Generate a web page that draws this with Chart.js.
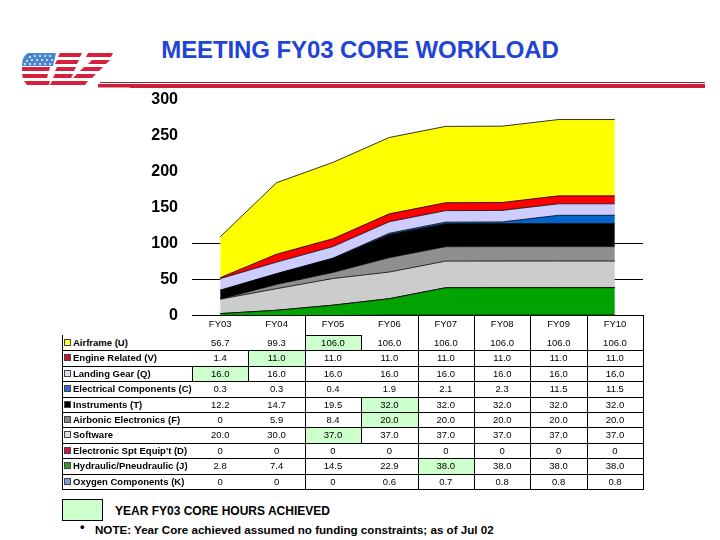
<!DOCTYPE html>
<html>
<head>
<meta charset="utf-8">
<script src="https://cdn.jsdelivr.net/npm/chart.js@4/dist/chart.umd.min.js"></script>
<style>
  html, body { margin:0; padding:0; background:#fff; }
  body { width:720px; height:540px; position:relative; overflow:hidden; font-family:"Liberation Sans", Arial, sans-serif; }
  #title { position:absolute; left:0; width:720px; top:36px; text-align:center; color:#1f44d6; font-weight:bold; font-size:24px; letter-spacing:-0.1px; }
  .abs { position:absolute; }
  #chartWrap { position:absolute; left:140px; top:88px; width:510px; height:237px; }
  .cell { position:absolute; font-size:9.5px; text-align:center; line-height:15.4px; color:#000; }
  .lbl { position:absolute; font-size:9.5px; font-weight:bold; line-height:15.4px; color:#000; white-space:nowrap; }
  .sq { display:inline-block; width:5px; height:5px; border:1px solid #444; margin-right:2px; vertical-align:0px; }
  .hl { position:absolute; background:#ccffcc; border:1px solid #000; box-sizing:border-box; }
  .vl { position:absolute; width:1px; background:#000; }
  .hline { position:absolute; height:1px; background:#000; }
</style>
</head>
<body>
<svg class="abs" style="left:0;top:0" width="130" height="95">
  <g fill="#d5213c">
    <polygon points="60,53 82,53 80,57 58,57"/>
    <polygon points="88,53 113,53 111,57 86,57"/>
    <polygon points="57,60 79,60 77,64 55,64"/>
    <polygon points="92,60 110,60 106,64 88,64"/>
    <polygon points="22,67 50,67 49,71 22,71"/>
    <polygon points="57,67 76,67 74,71 55,71"/>
    <polygon points="84,67 103,67 99,71 80,71"/>
    <polygon points="22,74 48,74 47,78 23,78"/>
    <polygon points="55,74 73,74 71,78 53,78"/>
    <polygon points="77,74 96,74 92,78 73,78"/>
    <polygon points="24,81 50,81 49,85 27,85"/>
    <polygon points="52,81 70,81 68,85 50,85"/>
    <polygon points="69,81 88,81 85,85 66,85"/>
  </g>
  <path d="M28,53 L56,53 L53,66 L22,66 Q22,56 28,53 Z" fill="#4a86cf"/>
  <g fill="#fff">
    <circle cx="30" cy="57" r="0.9"/><circle cx="35" cy="56" r="0.9"/><circle cx="40" cy="56" r="0.9"/><circle cx="45" cy="56" r="0.9"/><circle cx="50" cy="56" r="0.9"/>
    <circle cx="27" cy="61" r="0.9"/><circle cx="32" cy="60" r="0.9"/><circle cx="37" cy="60" r="0.9"/><circle cx="42" cy="60" r="0.9"/><circle cx="47" cy="60" r="0.9"/><circle cx="52" cy="60" r="0.9"/>
    <circle cx="25" cy="64" r="0.9"/><circle cx="30" cy="64" r="0.9"/><circle cx="35" cy="64" r="0.9"/><circle cx="40" cy="64" r="0.9"/><circle cx="45" cy="64" r="0.9"/><circle cx="50" cy="64" r="0.9"/>
  </g>
  <rect x="100" y="82" width="30" height="1" fill="#a8182f"/>
  <rect x="98" y="84" width="32" height="3.5" fill="#cc1f3a"/>
</svg>
<div class="abs" style="left:130px;top:82px;width:575px;height:1px;background:#a8182f"></div>
<div class="abs" style="left:130px;top:84px;width:575px;height:3.5px;background:#cc1f3a"></div>
<div id="title">MEETING FY03 CORE WORKLOAD</div>

<div id="chartWrap"><canvas id="c"></canvas></div>
<div id="table"></div>

<div class="abs" style="left:62px;top:499px;width:41px;height:22px;background:#ccffcc;border:1px solid #000;box-sizing:border-box"></div>
<div class="abs" style="left:115px;top:504px;font-size:12px;font-weight:bold">YEAR FY03 CORE HOURS ACHIEVED</div>
<div class="abs" style="left:80px;top:519px;font-size:13px;font-weight:bold">•</div>
<div class="abs" style="left:95px;top:523px;font-size:11.6px;font-weight:bold">NOTE: Year Core achieved assumed no funding constraints; as of Jul 02</div>

<script>
// ---- data ----
const categories = ['FY03', 'FY04', 'FY05', 'FY06', 'FY07', 'FY08', 'FY09', 'FY10'];
const yTicks = [0, 50, 100, 150, 200, 250, 300];
const seriesLabels = ['Airframe (U)', 'Engine Related (V)', 'Landing Gear (Q)', 'Electrical Components (C)',
  'Instruments (T)', 'Airbonic Electronics (F)', 'Software', "Electronic Spt Equip't (D)",
  'Hydraulic/Pneudraulic (J)', 'Oxygen Components (K)'];
const airframe      = [56.7, 99.3, 106.0, 106.0, 106.0, 106.0, 106.0, 106.0];
const engine        = [1.4, 11.0, 11.0, 11.0, 11.0, 11.0, 11.0, 11.0];
const landingGear   = [16.0, 16.0, 16.0, 16.0, 16.0, 16.0, 16.0, 16.0];
const electrical    = [0.3, 0.3, 0.4, 1.9, 2.1, 2.3, 11.5, 11.5];
const instruments   = [12.2, 14.7, 19.5, 32.0, 32.0, 32.0, 32.0, 32.0];
const airbonic      = [0, 5.9, 8.4, 20.0, 20.0, 20.0, 20.0, 20.0];
const software      = [20.0, 30.0, 37.0, 37.0, 37.0, 37.0, 37.0, 37.0];
const electronicSpt = [0, 0, 0, 0, 0, 0, 0, 0];
const hydraulic     = [2.8, 7.4, 14.5, 22.9, 38.0, 38.0, 38.0, 38.0];
const oxygen        = [0, 0, 0, 0.6, 0.7, 0.8, 0.8, 0.8];
// year in which core hours were achieved (highlighted cell), null = none
const achievedYear  = ['FY05', 'FY04', 'FY03', null, 'FY06', 'FY06', 'FY05', null, 'FY07', null];

// ---- styles ----
const allSeries = [airframe, engine, landingGear, electrical, instruments, airbonic, software, electronicSpt, hydraulic, oxygen];
const fillColors = ['#ffff00', '#ff0000', '#ccccff', '#0066cc', '#000000', '#8f8f8f', '#cccccc', '#cc0033', '#00a300', '#9999ff'];
const squareColors = ['#ffff33', '#cc1122', '#ddddf0', '#3366cc', '#000000', '#888888', '#dddddd', '#cc1144', '#339933', '#8899dd'];

// chart datasets: bottom to top = reverse of table order
const datasets = [];
for (let i = allSeries.length - 1; i >= 0; i--) {
  datasets.push({
    label: seriesLabels[i],
    data: allSeries[i],
    backgroundColor: fillColors[i],
    borderColor: '#000',
    borderWidth: 0.8,
    pointRadius: 0,
    tension: 0,
    fill: datasets.length === 0 ? 'origin' : '-1'
  });
}

const wrap = document.getElementById('chartWrap');
const chart = new Chart(document.getElementById('c'), {
  type: 'line',
  data: { labels: categories, datasets },
  options: {
    responsive: true,
    maintainAspectRatio: false,
    animation: false,
    layout: { padding: { top: 0, right: 7, bottom: 0, left: 0 } },
    plugins: { legend: { display: false }, tooltip: { enabled: false }, title: { display: false } },
    scales: {
      x: {
        offset: true,
        grid: { display: false },
        border: { display: true, color: '#000', width: 1 },
        ticks: { display: false },
        afterFit: s => { s.height = 0; }
      },
      y: {
        stacked: true,
        min: 0, max: 300,
        afterBuildTicks: s => { s.ticks = yTicks.map(v => ({ value: v })); },
        afterFit: s => { s.width = 52; },
        border: { display: false },
        grid: {
          drawTicks: false,
          color: c => (c.tick && (c.tick.value === 50 || c.tick.value === 100)) ? '#000' : 'rgba(0,0,0,0)',
          lineWidth: 1
        },
        ticks: {
          padding: 14,
          color: '#000',
          font: { family: '"Liberation Sans", Arial, sans-serif', size: 16, weight: 'bold' }
        }
      }
    }
  }
});

// place the plot area at the reference's pixel box (top 100, bottom 316)
const targetTop = 100, targetBottom = 316;
for (let k = 0; k < 3; k++) {
  const wTop = parseFloat(wrap.style.top || 88), wH = wrap.clientHeight;
  const a = chart.chartArea;
  const curTop = wTop + a.top, curBottom = wTop + a.bottom;
  const newH = wH + ((targetBottom - targetTop) - (curBottom - curTop));
  const newTop = wTop + (targetTop - curTop);
  wrap.style.top = newTop + 'px';
  wrap.style.height = newH + 'px';
  chart.resize();
}

// ---- table ----
const tbl = document.getElementById('table');
const tableLeft = 62, firstCol = 192, colW = 56.4, headTop = 316, rowTop = 335, rowH = 15.4;
const tableRight = firstCol + colW * categories.length;
const fmt = v => v === 0 ? '0' : v.toFixed(1);
function add(cls, style, text) {
  const d = document.createElement('div');
  d.className = cls;
  Object.assign(d.style, style);
  if (text !== undefined) d.textContent = text;
  tbl.appendChild(d);
  return d;
}
allSeries.forEach((s, r) => {
  const y = achievedYear[r];
  if (y) {
    const c = categories.indexOf(y);
    add('hl', { left: (firstCol + c * colW) + 'px', top: (rowTop + r * rowH) + 'px', width: (colW + 1) + 'px', height: (rowH + 1) + 'px' });
  }
});
categories.forEach((cat, c) => {
  add('cell', { left: (firstCol + c * colW) + 'px', top: headTop + 'px', width: colW + 'px', height: '16px' }, cat);
});
allSeries.forEach((s, r) => {
  const top = rowTop + r * rowH;
  const l = add('lbl', { left: '64px', top: top + 'px' });
  const sq = document.createElement('span');
  sq.className = 'sq';
  sq.style.background = squareColors[r];
  l.appendChild(sq);
  l.appendChild(document.createTextNode(seriesLabels[r]));
  s.forEach((v, c) => {
    add('cell', { left: (firstCol + c * colW) + 'px', top: top + 'px', width: colW + 'px' }, fmt(v));
  });
  if (r > 0) add('hline', { left: tableLeft + 'px', top: top + 'px', width: (tableRight - tableLeft + 1) + 'px' });
});
const tableBottom = rowTop + allSeries.length * rowH;
add('hline', { left: tableLeft + 'px', top: tableBottom + 'px', width: (tableRight - tableLeft + 1) + 'px' });
add('vl', { left: tableLeft + 'px', top: rowTop + 'px', height: (tableBottom - rowTop) + 'px' });
[2, 4, 5, 6, 7, 8].forEach(k => {
  add('vl', { left: (firstCol + k * colW) + 'px', top: headTop + 'px', height: (tableBottom - headTop) + 'px' });
});
</script>
</body>
</html>
